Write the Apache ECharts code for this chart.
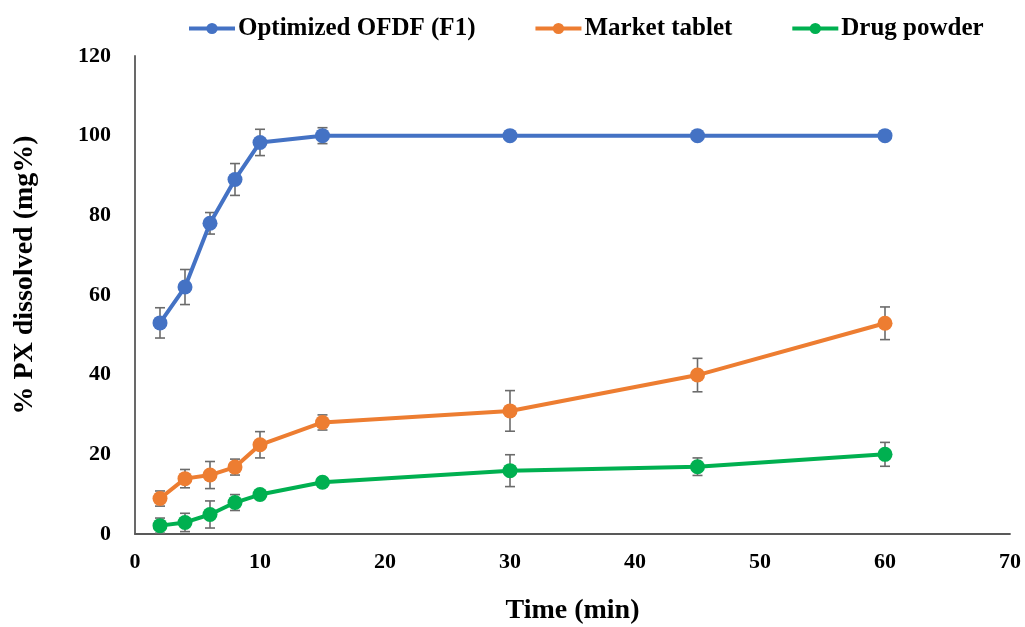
<!DOCTYPE html>
<html>
<head>
<meta charset="utf-8">
<script src="https://cdn.jsdelivr.net/npm/echarts@6/dist/echarts.min.js"></script>
<style>html,body{margin:0;padding:0;background:#fff;}#c{width:1025px;height:627px;}</style>
</head>
<body>
<div id="c"></div>
<script>
var times = [2, 4, 6, 8, 10, 15, 30, 45, 60];
var ofdfValues = [53, 62, 78, 89, 98.3, 100, 100, 100, 100];
var ofdfErrors = [3.8, 4.4, 2.7, 4, 3.3, 2, 0, 0, 0];
var marketValues = [8.9, 13.9, 14.8, 16.8, 22.4, 28, 30.9, 39.9, 52.9];
var marketErrors = [1.9, 2.3, 3.4, 2, 3.3, 1.9, 5.1, 4.2, 4.1];
var powderValues = [2.1, 2.9, 4.9, 7.9, 9.9, 13, 15.9, 16.9, 20];
var powderErrors = [1.9, 2.3, 3.4, 2, 1.2, 0.5, 4, 2.2, 3];
var seriesNames = ['Optimized OFDF (F1)', 'Market tablet', 'Drug powder'];
var xTicks = [0, 10, 20, 30, 40, 50, 60, 70];
var yTicks = [0, 20, 40, 60, 80, 100, 120];
var xTitle = 'Time (min)';
var yTitle = '% PX dissolved (mg%)';

var colors = ['#4472C4', '#ED7D31', '#00B050'];
var fontFam = '"Liberation Serif", "Times New Roman", serif';

function pairs(vals) { return times.map(function (t, i) { return [t, vals[i]]; }); }
function errData(vals, errs) { return times.map(function (t, i) { return [t, vals[i] - errs[i], vals[i] + errs[i]]; }); }

function errSeries(vals, errs) {
  return {
    type: 'custom',
    z: 1,
    silent: true,
    data: errData(vals, errs),
    renderItem: function (params, api) {
      var lo = api.coord([api.value(0), api.value(1)]);
      var hi = api.coord([api.value(0), api.value(2)]);
      if (Math.abs(hi[1] - lo[1]) < 1) return null;
      var w = 5;
      var st = { stroke: '#6b6b6b', lineWidth: 1.6 };
      return {
        type: 'group',
        children: [
          { type: 'line', shape: { x1: lo[0], y1: lo[1], x2: hi[0], y2: hi[1] }, style: st },
          { type: 'line', shape: { x1: lo[0] - w, y1: lo[1], x2: lo[0] + w, y2: lo[1] }, style: st },
          { type: 'line', shape: { x1: hi[0] - w, y1: hi[1], x2: hi[0] + w, y2: hi[1] }, style: st }
        ]
      };
    }
  };
}

function lineSeries(name, vals, color) {
  return {
    name: name,
    type: 'line',
    z: 3,
    data: pairs(vals),
    symbol: 'circle',
    symbolSize: 15,
    lineStyle: { color: color, width: 4 },
    itemStyle: { color: color },
    emphasis: { disabled: true }
  };
}

var chart = echarts.init(document.getElementById('c'), null, { renderer: 'canvas' });
chart.setOption({
  animation: false,
  color: colors,
  grid: { left: 135, right: 15, top: 56, bottom: 93, containLabel: false, outerBoundsMode: 'none' },
  legend: {
    top: 11,
    left: 182,
    itemWidth: 46,
    itemHeight: 14,
    itemGap: 58,
    lineStyle: { width: 4 },
    textStyle: { fontFamily: fontFam, fontWeight: 'bold', fontSize: 25, color: '#000', padding: [0, 0, 0, -2] },
    data: seriesNames
  },
  graphic: [{
    type: 'text',
    x: 25,
    y: 275,
    rotation: Math.PI / 2,
    style: {
      text: yTitle,
      fontFamily: fontFam, fontWeight: 'bold', fontSize: 28, fill: '#000',
      align: 'center', verticalAlign: 'middle'
    }
  }],
  xAxis: {
    type: 'value',
    min: 0, max: 70, interval: 10,
    name: xTitle,
    nameLocation: 'middle',
    nameGap: 63,
    nameTextStyle: { fontFamily: fontFam, fontWeight: 'bold', fontSize: 28, color: '#000' },
    axisLine: { show: true, lineStyle: { color: '#595959', width: 1.8 } },
    axisTick: { show: false },
    splitLine: { show: false },
    axisLabel: {
      fontFamily: fontFam, fontWeight: 'bold', fontSize: 22, color: '#000', margin: 17,
      formatter: function (v) { return xTicks.indexOf(v) >= 0 ? String(v) : ''; }
    }
  },
  yAxis: {
    type: 'value',
    min: 0, max: 120, interval: 20,
    axisLine: { show: true, lineStyle: { color: '#595959', width: 1.8 } },
    axisTick: { show: false },
    splitLine: { show: false },
    axisLabel: {
      fontFamily: fontFam, fontWeight: 'bold', fontSize: 22, color: '#000', margin: 24,
      formatter: function (v) { return yTicks.indexOf(v) >= 0 ? String(v) : ''; }
    }
  },
  series: [
    errSeries(ofdfValues, ofdfErrors),
    errSeries(marketValues, marketErrors),
    errSeries(powderValues, powderErrors),
    lineSeries(seriesNames[0], ofdfValues, colors[0]),
    lineSeries(seriesNames[1], marketValues, colors[1]),
    lineSeries(seriesNames[2], powderValues, colors[2])
  ]
});
</script>
</body>
</html>
